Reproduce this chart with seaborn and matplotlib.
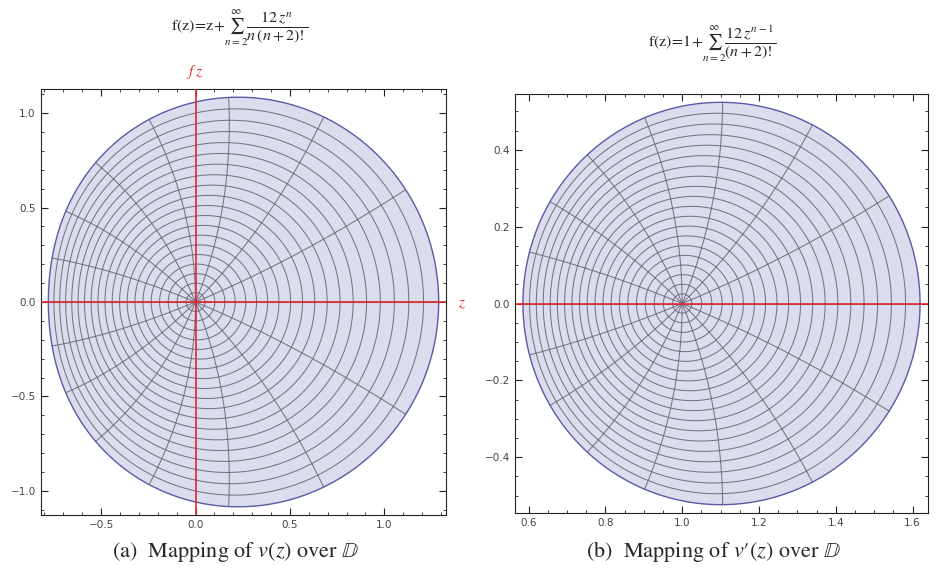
import numpy as np
import pandas as pd
import matplotlib.pyplot as plt
import seaborn as sns
from math import factorial
from matplotlib.ticker import MultipleLocator

# terms of the series (n = 2 .. 9), as in the plot labels
terms_n = [2, 3, 4, 5, 6, 7, 8, 9]
# mesh of the unit disc: circles |z| = r and rays arg z = t
mesh_radii = [0.05, 0.10, 0.15, 0.20, 0.25, 0.30, 0.35, 0.40, 0.45, 0.50,
              0.55, 0.60, 0.65, 0.70, 0.75, 0.80, 0.85, 0.90, 0.95]
mesh_angles_deg = [0, 22.5, 45, 67.5, 90, 112.5, 135, 157.5,
                   180, 202.5, 225, 247.5, 270, 292.5, 315, 337.5]

titles = [r'$\mathrm{f(z)\!=\!z\!+\!}\sum_{n=2}^{\infty}\dfrac{12\,z^{n}}{n\,(n+2)!}$',
          r'$\mathrm{f(z)\!=\!1\!+\!}\sum_{n=2}^{\infty}\dfrac{12\,z^{n-1}}{(n+2)!}$']
captions = [r'(a)  Mapping of $v(z)$ over $\mathbb{D}$',
            r'(b)  Mapping of $v′(z)$ over $\mathbb{D}$']


def v(z):
    return z + sum(12 * z**n / (n * factorial(n + 2)) for n in terms_n)


def dv(z):
    return 1 + sum(12 * z**(n - 1) / factorial(n + 2) for n in terms_n)


def mesh_frame(f):
    rows = []
    t = np.linspace(0, 2 * np.pi, 400)
    for i, r in enumerate(mesh_radii):
        w = f(r * np.exp(1j * t))
        rows.append(pd.DataFrame({'x': w.real, 'y': w.imag, 'curve': f'c{i}'}))
    s = np.linspace(0, 1, 200)
    for i, a in enumerate(mesh_angles_deg):
        w = f(s * np.exp(1j * np.radians(a)))
        rows.append(pd.DataFrame({'x': w.real, 'y': w.imag, 'curve': f'r{i}'}))
    return pd.concat(rows, ignore_index=True)


sns.set_style('ticks')
plt.rcParams['mathtext.fontset'] = 'stix'

fig = plt.figure(figsize=(9.42, 5.72), dpi=100)
ax1 = fig.add_axes([40 / 942, 57 / 572, 407 / 942, 426 / 572])
ax2 = fig.add_axes([515 / 942, 57 / 572, 413 / 942, 423 / 572])

for ax, f, major, minor in [(ax1, v, 0.5, 0.1), (ax2, dv, 0.2, 0.05)]:
    t = np.linspace(0, 2 * np.pi, 600)
    edge = f(np.exp(1j * t))
    edge_df = pd.DataFrame({'x': edge.real, 'y': edge.imag, 'curve': 'edge'})
    ax.fill(edge_df['x'], edge_df['y'], color='#dcdcef', zorder=0, lw=0)
    sns.lineplot(data=mesh_frame(f), x='x', y='y', units='curve', estimator=None,
                 sort=False, color='#62626f', lw=0.75, alpha=0.85, legend=False, ax=ax)
    sns.lineplot(data=edge_df, x='x', y='y', units='curve', estimator=None,
                 sort=False, color='#5a5aa6', lw=1.0, legend=False, ax=ax)
    ax.margins(0.02)
    ax.set_aspect('equal', adjustable='box')
    ax.axhline(0, color='#e3262a', lw=1.2, zorder=5)
    ax.set_xlabel('')
    ax.set_ylabel('')
    ax.xaxis.set_major_locator(MultipleLocator(major))
    ax.yaxis.set_major_locator(MultipleLocator(major))
    ax.xaxis.set_minor_locator(MultipleLocator(minor))
    ax.yaxis.set_minor_locator(MultipleLocator(minor))
    ax.tick_params(which='both', direction='in', top=True, right=True,
                   labelsize=7.5, labelcolor='#444444', color='#222222')
    ax.tick_params(which='major', length=5, width=0.8)
    ax.tick_params(which='minor', length=2.5, width=0.6)
    for sp in ax.spines.values():
        sp.set_linewidth(0.8)
        sp.set_color('#222222')

ax1.axvline(0, color='#e3262a', lw=1.2, zorder=5)

# axis labels of the left panel
ax1.annotate('f z', xy=(0, 1), xycoords=('data', 'axes fraction'), xytext=(0, 7),
             textcoords='offset points', ha='center', va='bottom', color='#e3262a',
             fontsize=11, style='italic', family='STIXGeneral')
ax1.annotate('z', xy=(1, 0), xycoords=('axes fraction', 'data'), xytext=(8, 0),
             textcoords='offset points', ha='left', va='center', color='#e3262a',
             fontsize=11, style='italic', family='STIXGeneral')

fig.text(240 / 942, 1 - 28 / 572, titles[0], ha='center', va='center', fontsize=11.5)
fig.text(712 / 942, 1 - 44 / 572, titles[1], ha='center', va='center', fontsize=11.5)
fig.text(236 / 942, 1 - 552 / 572, captions[0], ha='center', va='center',
         fontsize=16, family='STIXGeneral')
fig.text(714 / 942, 1 - 552 / 572, captions[1], ha='center', va='center',
         fontsize=16, family='STIXGeneral')

fig.savefig('out.png', dpi=100, facecolor='white')
